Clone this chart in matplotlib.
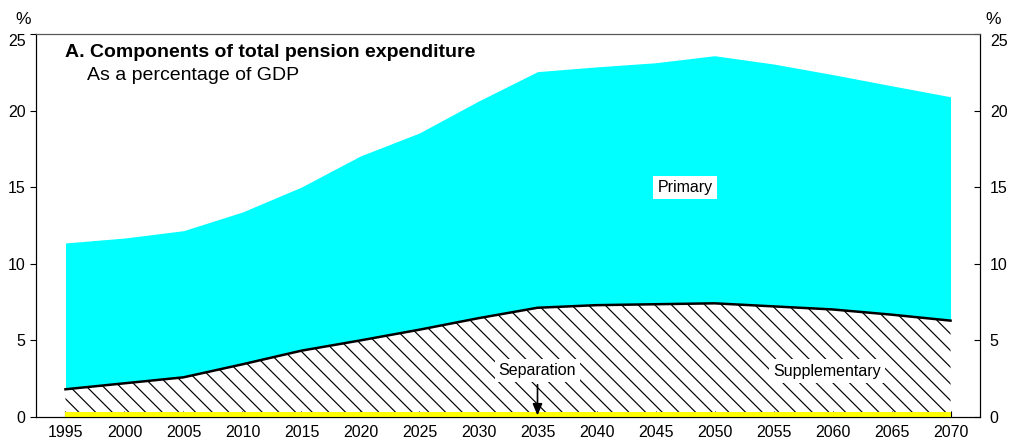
import numpy as np
import matplotlib.pyplot as plt

# Values (% of GDP)
years = [1995, 2000, 2005, 2010, 2015, 2020, 2025, 2030, 2035,
         2040, 2045, 2050, 2055, 2060, 2065, 2070]
total = [11.36, 11.68, 12.16, 13.38, 15.01, 17.04, 18.54, 20.62, 22.54,
         22.85, 23.12, 23.58, 23.04, 22.35, 21.62, 20.90]
supp_top = [1.81, 2.20, 2.59, 3.44, 4.33, 5.00, 5.70, 6.45, 7.13,
            7.30, 7.36, 7.42, 7.22, 7.02, 6.68, 6.29]
separation = [0.33, 0.33, 0.33, 0.33, 0.33, 0.33, 0.33, 0.33, 0.33,
              0.33, 0.33, 0.33, 0.33, 0.33, 0.33, 0.33]
yticks = [0, 5, 10, 15, 20, 25]


def main():
    plt.rcParams['font.family'] = ['Liberation Sans', 'DejaVu Sans']
    plt.rcParams['hatch.linewidth'] = 0.85

    x = np.array(years)
    tot = np.array(total)
    sup = np.array(supp_top)
    sep = np.array(separation)

    fig = plt.figure(figsize=(10.16, 4.41), dpi=100)
    ax = fig.add_axes([0.0354, 0.0544, 0.9292, 0.8686])

    # Stacked areas: separation (yellow), supplementary (hatched), primary (cyan)
    ax.fill_between(x, sup, tot, color='#00FFFF', linewidth=0, zorder=1)
    ax.fill_between(x, sep, sup, facecolor='white', edgecolor='black',
                    hatch='\\\\', linewidth=0, zorder=1)
    ax.fill_between(x, 0, sep, color='#FFFF00', linewidth=0, zorder=2)
    ax.plot(x, sup, color='black', linewidth=1.8, zorder=3)

    ax.set_xlim(1992.5, 2072.5)
    ax.set_ylim(0, 25)
    ax.set_xticks(years)
    ax.set_yticks(yticks)
    ax.tick_params(axis='x', direction='in', length=4, labelsize=11.5, pad=6)
    ax.tick_params(axis='y', direction='out', length=4, labelsize=11.5,
                   left=True, right=False)

    ax2 = ax.twinx()
    ax2.set_ylim(0, 25)
    ax2.set_yticks(yticks)
    ax2.tick_params(axis='y', direction='in', length=4, labelsize=11.5, pad=7)

    for a in (ax, ax2):
        a.spines['top'].set_color('#555555')

    ax.set_zorder(ax2.get_zorder() + 1)
    ax.patch.set_visible(False)

    # top tick label sits just below the top edge
    fig.canvas.draw()
    ax.get_yticklabels()[-1].set_va('top')
    ax2.get_yticklabels()[-1].set_va('top')

    # Titles
    ax.text(0.031, 0.975, 'A. Components of total pension expenditure',
            transform=ax.transAxes, fontsize=14, fontweight='bold',
            va='top', ha='left')
    ax.text(0.054, 0.915, 'As a percentage of GDP', transform=ax.transAxes,
            fontsize=14, va='top', ha='left')

    fig.text(0.015, 0.955, '%', fontsize=12.5, ha='left', va='center')
    fig.text(0.970, 0.955, '%', fontsize=12.5, ha='left', va='center')

    # Series labels
    box = dict(facecolor='white', edgecolor='none', pad=3)
    ax.text(2047.5, 15.0, 'Primary', fontsize=11.5, ha='center', va='center',
            bbox=box, zorder=5)
    ax.text(2059.5, 3.0, 'Supplementary', fontsize=11.5, ha='center',
            va='center', bbox=box, zorder=5)
    ax.annotate('Separation', xy=(2035, 0.1), xytext=(2035, 3.05),
                fontsize=11.5, ha='center', va='center', bbox=box, zorder=5,
                arrowprops=dict(arrowstyle='-|>,head_length=0.6,head_width=0.25',
                                color='black', lw=1.2, shrinkA=2, shrinkB=0))

    fig.savefig('out.png', dpi=100)


if __name__ == '__main__':
    main()
